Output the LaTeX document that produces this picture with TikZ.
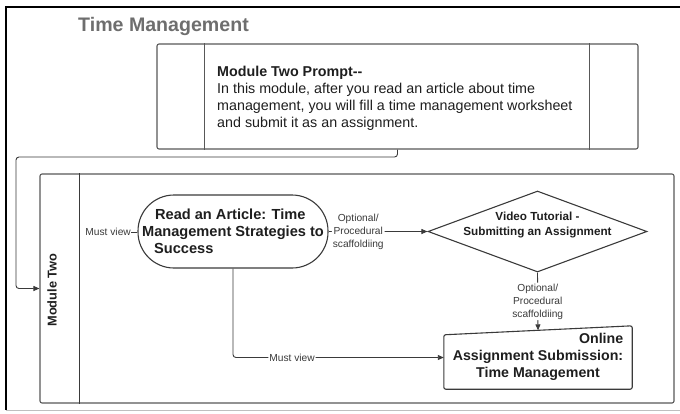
\documentclass[tikz,border=0pt]{standalone}
\usepackage{fontspec}
\setmainfont{Liberation Sans}
\usetikzlibrary{shapes.geometric,arrows.meta}
\definecolor{ln}{HTML}{3A3A3A}
\definecolor{txt}{HTML}{1E1E1E}
\definecolor{ttl}{HTML}{6E6E6E}
\tikzset{
  shp/.style={draw=ln, line width=1.1pt},
  con/.style={draw=ln, line width=0.9pt},
  arr/.style={con, rounded corners=3pt, -{Triangle[length=6pt,width=5pt]}},
  elab/.style={font=\fontsize{10.2}{13}\selectfont, text=ln, align=center, fill=white, inner sep=1pt},
}
\begin{document}
\begin{tikzpicture}[x=1pt,y=-1pt]
\useasboundingbox (0,0) rectangle (680,413);
% outer frame
\draw[black, line width=1.6pt] (681,7) -- (6,7) -- (6,410);
\draw[gray!50, line width=0.8pt] (6,410) -- (681,410);
% title
\node[anchor=west, inner sep=0, font=\bfseries\fontsize{19.6}{22}\selectfont, text=ttl] (title) at (78,26) {Time Management};
% prompt box
\node[shp, draw=ln!85, rounded corners=2pt, minimum width=481pt, minimum height=105pt, inner sep=0] (prompt) at (397.5,96.5) {};
\draw[shp, draw=ln!85] ([xshift=48pt]prompt.north west) -- ([xshift=48pt]prompt.south west);
\draw[shp, draw=ln!85] ([xshift=-49pt]prompt.north east) -- ([xshift=-49pt]prompt.south east);
\node[anchor=north west, inner sep=0, align=left, text=txt, font=\fontsize{14.3}{17}\selectfont] (ptext) at (217,66)
  {\textbf{Module Two Prompt-{}-}\\In this module, after you read an article about time\\management, you will fill a time management worksheet\\and submit it as an assignment.};
% pool
\node[shp, draw=ln!85, rounded corners=2pt, minimum width=634pt, minimum height=229pt, inner sep=0] (pool) at (357,288.5) {};
\draw[shp] ([xshift=40pt]pool.north west) -- ([xshift=40pt]pool.south west);
\node[rotate=90, inner sep=0, text=txt, font=\bfseries\fontsize{12.8}{15}\selectfont] (lane) at (52,290) {Module Two};
% connector prompt -> pool
\coordinate (k1) at (16,157);
\draw[arr] (prompt.south) |- (k1) |- (pool.west);
% read an article
\node[shp, rounded corners=36pt, minimum width=190pt, minimum height=73pt, inner sep=0, align=left, text=txt,
  font=\bfseries\fontsize{14.6}{17}\selectfont] (read) at (233,231.5)
  {\hspace*{13pt}Read an Article: Time\\Management Strategies to\\\hspace*{12pt}Success};
\node[elab, fill=none, anchor=east, inner sep=0] (mv1) at (131,232) {Must view};
\draw[con] (mv1.east) -- (mv1.east -| read.west);
% video tutorial
\node[shp, diamond, minimum width=219pt, minimum height=81pt, inner sep=0,
  label={[name=vt, align=center, text=txt, font=\bfseries\fontsize{11.7}{15}\selectfont, yshift=7pt]center:Video Tutorial -\\Submitting an Assignment}]
  (video) at (537.5,231.5) {};
\draw[arr] (read.east) -- node[elab, pos=0.3] {Optional/\\Procedural\\scaffoldiing} (video.west);
% submission
\node[minimum width=188pt, minimum height=63pt, inner sep=0, text=txt, font=\bfseries\fontsize{14.2}{17}\selectfont] (sub) at (538,357.5)
  {\begin{tabular}{@{}c@{}}\multicolumn{1}{@{}r@{}}{Online}\\Assignment Submission:\\Time Management\end{tabular}};
\draw[shp, rounded corners=2pt] ([yshift=-9pt]sub.north west) -- (sub.north east) -- (sub.south east) -- (sub.south west) -- cycle;
\draw[arr] (video.south) -- node[elab] {Optional/\\Procedural\\scaffoldiing} ([yshift=-4.5pt]sub.north);
\draw[arr] (read.south) |- node[elab, pos=0.64] {Must view} (sub.west);
\end{tikzpicture}
\end{document}
